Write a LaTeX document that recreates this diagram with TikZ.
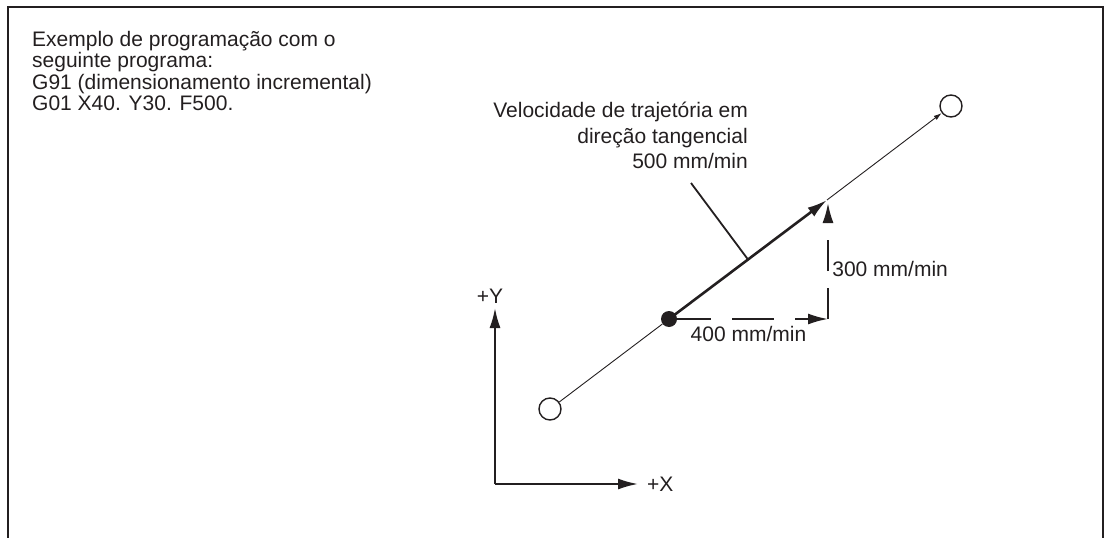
\documentclass[tikz,border=0pt]{standalone}
\usepackage{fontspec}
\setmainfont{Liberation Sans}
\usepackage{tikz}
\usetikzlibrary{arrows.meta,calc}

\definecolor{ink}{RGB}{35,31,32}

\begin{document}
\begin{tikzpicture}[
x=1pt,y=-1pt,
font=\fontsize{21}{21.5}\selectfont,
every node/.style={text=ink},
frame/.style={draw=ink,line width=2pt},
endpt/.style={draw=ink,circle,line width=1.4pt,fill=white,minimum size=22pt,inner sep=0pt},
midpt/.style={circle,fill=ink,minimum size=16pt,inner sep=0pt},
axis/.style={draw=ink,line width=2pt,-{Latex[length=20pt,width=11pt]}},
track/.style={draw=ink,line width=0.9pt},
feed/.style={draw=ink,line width=2.6pt,-{Latex[length=20pt,width=11pt]}},
hdim/.style={draw=ink,line width=2pt,dash pattern=on 42pt off 21pt,-{Latex[length=20pt,width=11pt]}},
vdim/.style={draw=ink,line width=2pt,dash pattern=on 31pt off 17pt,-{Latex[length=20pt,width=11pt]}},
lead/.style={draw=ink,line width=1.8pt}
]
\useasboundingbox (0,0) rectangle (1109,538);
\draw[frame] (8,538) |- (1103,7) -- (1103,538);

\node[anchor=north west,align=left,inner sep=0pt] (prog) at (32,31)
  {Exemplo de programação com o\\seguinte programa:\\G91 (dimensionamento incremental)\\G01 X40. Y30. F500.};

\coordinate (origin) at (495,484);
\coordinate (ytip) at (495,308);
\coordinate (xtip) at (638,484);
\draw[axis] (origin) -- (ytip) node[above,xshift=-5pt,inner sep=4pt] (ylab) {+Y};
\draw[axis] (origin) -- (xtip) node[right,inner sep=8pt] (xlab) {+X};

\node[endpt] (start) at (550,409) {};
\node[midpt] (dot) at (669,319) {};
\node[endpt] (end) at (951,106) {};
\coordinate (tip) at (827,200);
\coordinate (corner) at (828,319);
\coordinate (vtip) at (828,203);

\draw[track] (start) -- (dot);
\draw[feed] (dot.center) -- (tip);
\draw[track,-{Latex[length=8pt,width=5pt]}] (tip) -- (end);

\draw[hdim] (dot.center) -- node[below=3pt] (xspeed) {400 mm/min} (corner);
\draw[vdim] (corner) -- node[right,yshift=-8pt] (yspeed) {300 mm/min} (vtip);

\node[anchor=north east,align=right,inner sep=0pt,font=\fontsize{21}{25.5}\selectfont] (speed) at (748,102)
  {Velocidade de trajetória em\\direção tangencial\\500 mm/min};
\coordinate (lead1) at (691,183);
\coordinate (lead2) at ($(dot)!0.5!(tip)$);
\draw[lead] (lead1) -- (lead2);
\end{tikzpicture}
\end{document}
